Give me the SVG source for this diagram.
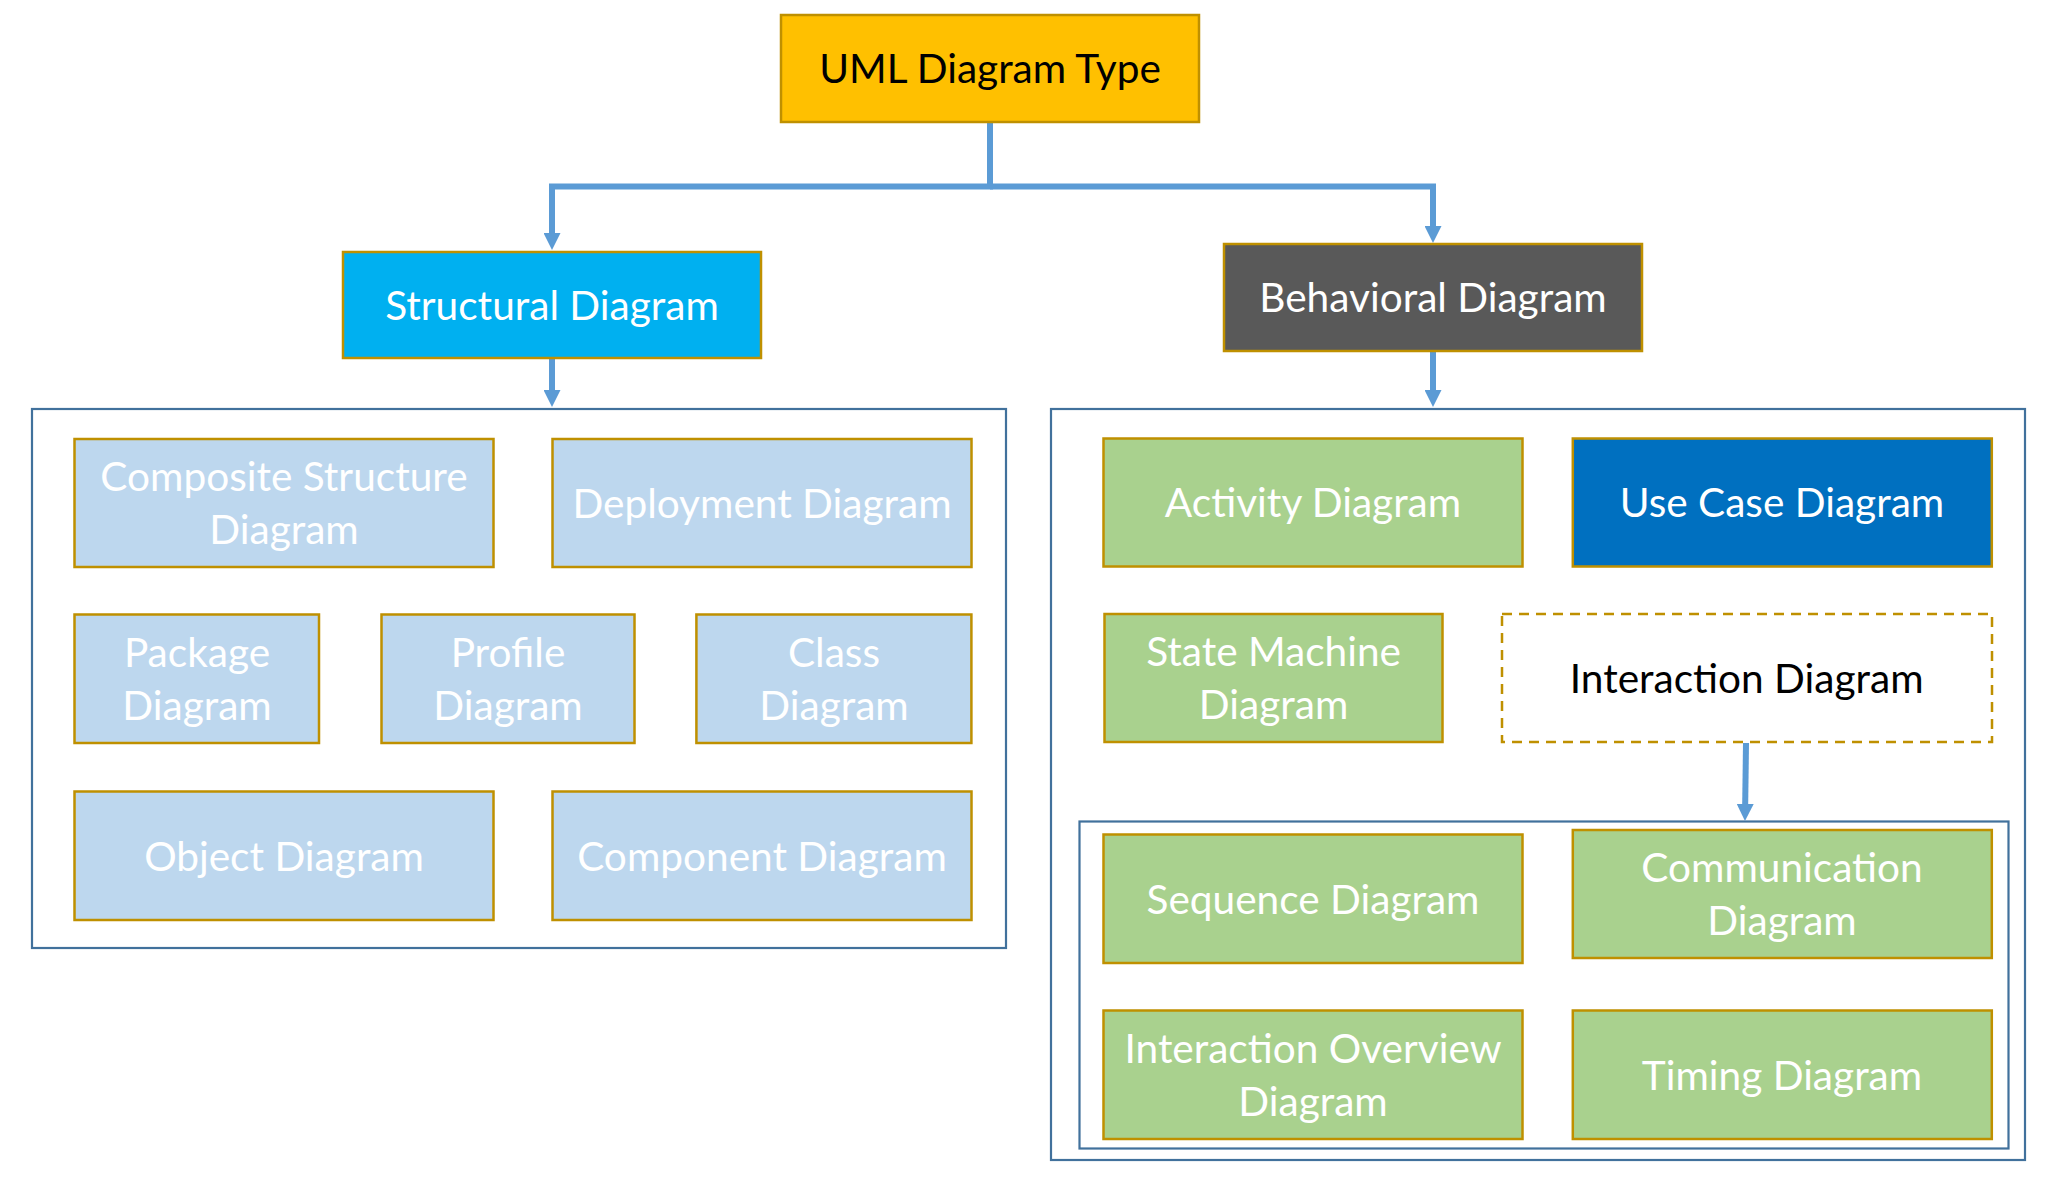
<svg xmlns="http://www.w3.org/2000/svg" width="2052" height="1177" viewBox="0 0 2052 1177">
<defs>
<style>
.box{stroke:#BF9000;stroke-width:2.5}
.cont{fill:none;stroke:#41719C;stroke-width:2.2}
.lb{fill:#BDD7EE}
.gr{fill:#A9D18E}
text{font-family:Lato,"Open Sans",sans-serif;font-size:40.6px;text-anchor:middle;fill:#FFFFFF}
.dk{fill:#000000}
.conn{fill:none;stroke:#5B9BD5;stroke-width:6}
</style>
<marker id="ah" viewBox="0 0 17 17" markerWidth="17" markerHeight="17" markerUnits="userSpaceOnUse" refX="0" refY="8.5" orient="auto">
<path d="M0,0 L17,8.5 L0,17 z" fill="#5B9BD5"/>
</marker>
</defs>
<rect width="2052" height="1177" fill="#FFFFFF"/>

<g id="containers">
<rect id="structural-group" class="cont" x="32" y="409" width="974" height="539"/>
<rect id="behavioral-group" class="cont" x="1051" y="409" width="974" height="751"/>
<rect id="interaction-group" class="cont" x="1079.5" y="821.5" width="929" height="327"/>
</g>

<g id="connectors">
<path class="conn" d="M990,123 V186.5 H552 V233" marker-end="url(#ah)"/>
<path class="conn" d="M990,186.5 H1433 V226" marker-end="url(#ah)"/>
<path class="conn" d="M552,359 V390" marker-end="url(#ah)"/>
<path class="conn" d="M1433,352 V390" marker-end="url(#ah)"/>
<path class="conn" d="M1746,743 L1745.2,804" marker-end="url(#ah)"/>
</g>

<g id="uml-diagram-type">
<rect class="box" x="781" y="15" width="418" height="107" fill="#FFC000"/>
<text class="dk" x="990" y="83">UML Diagram Type</text>
</g>
<g id="structural-diagram">
<rect class="box" x="343" y="252" width="418" height="106" fill="#00B0F0"/>
<text x="552" y="319.5">Structural Diagram</text>
</g>
<g id="behavioral-diagram">
<rect class="box" x="1224" y="244" width="418" height="107" fill="#595959"/>
<text x="1433" y="311.5">Behavioral Diagram</text>
</g>

<g id="composite-structure-diagram">
<rect class="box lb" x="74.5" y="439" width="419" height="128"/>
<text x="284" y="490.5">Composite Structure</text>
<text x="284" y="544">Diagram</text>
</g>
<g id="deployment-diagram">
<rect class="box lb" x="552.5" y="439" width="419" height="128"/>
<text x="762" y="517.5">Deployment Diagram</text>
</g>
<g id="package-diagram">
<rect class="box lb" x="74.5" y="614.5" width="244.5" height="128.5"/>
<text x="197" y="666.5">Package</text>
<text x="197" y="720">Diagram</text>
</g>
<g id="profile-diagram">
<rect class="box lb" x="381.5" y="614.5" width="253" height="128.5"/>
<text x="508" y="666.5">Profile</text>
<text x="508" y="720">Diagram</text>
</g>
<g id="class-diagram">
<rect class="box lb" x="696.4" y="614.5" width="275" height="128.5"/>
<text x="834" y="666.5">Class</text>
<text x="834" y="720">Diagram</text>
</g>
<g id="object-diagram">
<rect class="box lb" x="74.5" y="791.5" width="419" height="128.5"/>
<text x="284" y="870.5">Object Diagram</text>
</g>
<g id="component-diagram">
<rect class="box lb" x="552.5" y="791.5" width="419" height="128.5"/>
<text x="762" y="870.5">Component Diagram</text>
</g>

<g id="activity-diagram">
<rect class="box gr" x="1103.5" y="438.5" width="419" height="128"/>
<text x="1313" y="517">Activity Diagram</text>
</g>
<g id="use-case-diagram">
<rect class="box" x="1572.8" y="438.5" width="419" height="128" fill="#0070C0"/>
<text x="1782" y="517">Use Case Diagram</text>
</g>
<g id="state-machine-diagram">
<rect class="box gr" x="1104.5" y="614" width="338" height="128"/>
<text x="1273.6" y="665.5">State Machine</text>
<text x="1273.6" y="719">Diagram</text>
</g>
<g id="interaction-diagram">
<rect x="1502" y="614" width="490" height="128" fill="#FFFFFF" stroke="#BF9000" stroke-width="2.5" stroke-dasharray="10 7"/>
<text class="dk" x="1746.7" y="692.5">Interaction Diagram</text>
</g>
<g id="sequence-diagram">
<rect class="box gr" x="1103.5" y="834.5" width="419" height="128.5"/>
<text x="1313" y="913.5">Sequence Diagram</text>
</g>
<g id="communication-diagram">
<rect class="box gr" x="1572.8" y="830" width="419" height="128"/>
<text x="1782" y="881.5">Communication</text>
<text x="1782" y="935">Diagram</text>
</g>
<g id="interaction-overview-diagram">
<rect class="box gr" x="1103.5" y="1010.5" width="419" height="128.5"/>
<text x="1313" y="1062.5">Interaction Overview</text>
<text x="1313" y="1116">Diagram</text>
</g>
<g id="timing-diagram">
<rect class="box gr" x="1572.8" y="1010.5" width="419" height="128.5"/>
<text x="1782" y="1089.5">Timing Diagram</text>
</g>
</svg>
